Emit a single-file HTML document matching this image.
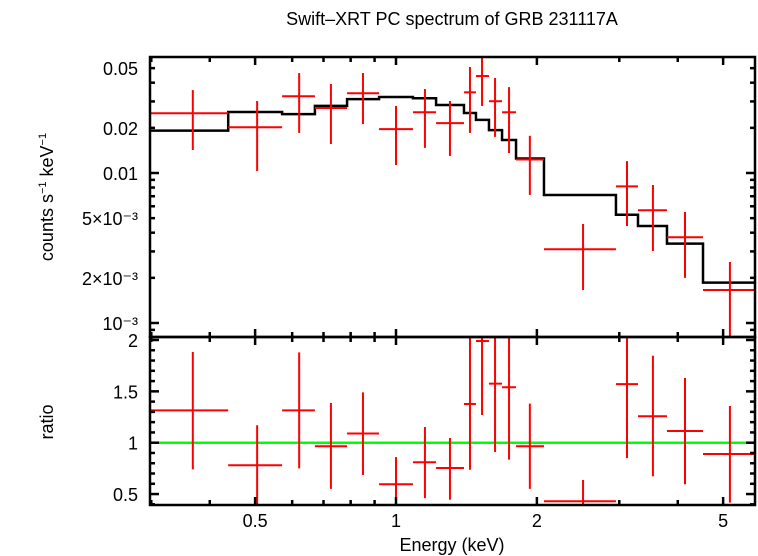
<!DOCTYPE html>
<html><head><meta charset="utf-8"><style>
html,body{margin:0;padding:0;background:#fff;}
svg{display:block;font-family:"Liberation Sans",sans-serif;}
</style></head><body>
<svg id="chart" width="758" height="556" viewBox="0 0 758 556" xmlns="http://www.w3.org/2000/svg">
<text x="452" y="25" font-size="18" text-anchor="middle">Swift–XRT PC spectrum of GRB 231117A</text>
<text transform="translate(53,197) rotate(-90)" font-size="18" text-anchor="middle">counts s<tspan font-size="11" dy="-7">−1</tspan><tspan dy="7"> keV</tspan><tspan font-size="11" dy="-7">−1</tspan></text>
<text transform="translate(53,422) rotate(-90)" font-size="18" text-anchor="middle">ratio</text>
<text x="452" y="551" font-size="18" text-anchor="middle">Energy (keV)</text>
<g id="g"></g>
</svg>
<script>
// ---- data ----
const binEdges = [0.298,0.438,0.571,0.671,0.786,0.920,1.087,1.218,1.397,1.482,1.580,1.685,1.805,2.071,2.951,3.289,3.793,4.529,5.85];
const binCenters = [0.368,0.505,0.621,0.726,0.850,1.0,1.153,1.304,1.439,1.527,1.628,1.744,1.932,2.51,3.116,3.54,4.145,5.17];
const rateValues = [0.0250,0.0202,0.0325,0.0271,0.0340,0.0196,0.0254,0.0215,0.0345,0.0443,0.0301,0.0254,0.0123,0.00310,0.00815,0.00564,0.00373,0.00166];
const rateHigh = [0.0357,0.0302,0.0464,0.0392,0.0464,0.0280,0.0363,0.0302,0.0509,0.0612,0.0430,0.0374,0.0177,0.00457,0.0120,0.00832,0.00550,0.00255];
const rateLow = [0.01424,0.0103,0.0185,0.0156,0.0212,0.0113,0.0147,0.0130,0.0185,0.0280,0.0174,0.0136,0.00714,0.00166,0.00443,0.00302,0.00200,0.0007];
const modelValues = [0.01915,0.0255,0.0247,0.0280,0.0311,0.0321,0.0315,0.0284,0.0251,0.0226,0.0193,0.0166,0.0125,0.00714,0.00527,0.00443,0.00338,0.00186];
const ratioValues = [1.315,0.78,1.315,0.965,1.09,0.595,0.81,0.754,1.377,1.99,1.575,1.54,0.965,0.43,1.57,1.257,1.114,0.89];
const ratioHigh = [1.883,1.17,1.88,1.386,1.49,0.86,1.153,1.046,2.2,2.2,2.2,2.2,1.38,0.637,2.2,1.847,1.63,1.357];
const ratioLow = [0.74,0.38,0.75,0.55,0.685,0.38,0.46,0.445,0.737,1.27,0.91,0.835,0.55,0.38,0.85,0.673,0.595,0.416];
const xTickLabels = ["0.5","1","2","5"];
const xTickValues = [0.5,1,2,5];
const yTopLabels = ["0.05","0.02","0.01","5×10⁻³","2×10⁻³","10⁻³"];
const yTopValues = [0.05,0.02,0.01,0.005,0.002,0.001];
const ratioTickLabels = ["2","1.5","1","0.5"];
const ratioTickValues = [2,1.5,1,0.5];

// ---- axes ----
const L=150,R=755,T=57,M=337,B=505;
const xs = e => 396 + 468*Math.log10(e);
const yTop = v => 173 - 150*Math.log10(v/0.01);
const yBot = r => 442.7 - 102.7*(r-1);
const NS="http://www.w3.org/2000/svg";
const g=document.getElementById('g');
function mk(tag,attrs,parent){const e=document.createElementNS(NS,tag);for(const k in attrs)e.setAttribute(k,attrs[k]);(parent||g).appendChild(e);return e;}
const clipT = mk('clipPath',{id:'ct'}); mk('rect',{x:L,y:T,width:R-L,height:M-T},clipT);
const clipB = mk('clipPath',{id:'cb'}); mk('rect',{x:L,y:M,width:R-L,height:B-M},clipB);
const gt = mk('g',{'clip-path':'url(#ct)'});


const gb = mk('g',{'clip-path':'url(#cb)'});



let d='';
for(let i=0;i<modelValues.length;i++){
  const y=yTop(modelValues[i]);
  d += (i===0?'M':'L')+xs(binEdges[i])+','+y+' L'+xs(binEdges[i+1])+','+y+' ';
}
const model=mk('path',{d:d,fill:'none',stroke:'#000','stroke-width':2.5},gt);



const ref=mk('line',{x1:L,x2:R,y1:yBot(1),y2:yBot(1),stroke:'#00ff00','stroke-width':2.5},gb);



for(let i=0;i<binCenters.length;i++){
  const x=xs(binCenters[i]),x0=xs(binEdges[i]),x1=xs(binEdges[i+1]);
  const p=mk('g',{stroke:'#ff0000','stroke-width':2},gt);
  
  
  mk('line',{x1:x0,x2:x1,y1:yTop(rateValues[i]),y2:yTop(rateValues[i])},p);
  mk('line',{x1:x,x2:x,y1:yTop(rateHigh[i]),y2:yTop(rateLow[i])},p);
  const q=mk('g',{stroke:'#ff0000','stroke-width':2},gb);
  
  
  mk('line',{x1:x0,x2:x1,y1:yBot(ratioValues[i]),y2:yBot(ratioValues[i])},q);
  mk('line',{x1:x,x2:x,y1:yBot(ratioHigh[i]),y2:yBot(ratioLow[i])},q);
}

const ax=mk('g',{stroke:'#000','stroke-width':2.5,fill:'none'});


mk('rect',{x:L,y:T,width:R-L,height:M-T},ax);
mk('rect',{x:L,y:M,width:R-L,height:B-M},ax);

const minorX=[0.3,0.4,0.5,0.6,0.7,0.8,0.9,1,2,3,4,5];
for(const e of minorX){
  const x=xs(e); if(x<L||x>R) continue;
  const big=[0.5,1,2,5].includes(e); const len=big?8:5;
  for(const [y0,dir] of [[T,1],[M,-1],[M,1],[B,-1]])
    mk('line',{x1:x,x2:x,y1:y0,y2:y0+dir*len},ax);
}
xTickValues.forEach((v,i)=>{
  const t=mk('text',{x:xs(v),y:527,'font-size':18,'text-anchor':'middle',stroke:'none',fill:'#000'});
  t.textContent=xTickLabels[i];
  
  
});
const minorY=[0.0009,0.001,0.002,0.003,0.004,0.005,0.006,0.007,0.008,0.009,0.01,0.02,0.03,0.04,0.05];
for(const v of minorY){
  const y=yTop(v); if(y<T||y>M) continue;
  const len=(v===0.001||v===0.01)?9:5;
  mk('line',{x1:L,x2:L+len,y1:y,y2:y},ax);
  mk('line',{x1:R,x2:R-len,y1:y,y2:y},ax);
}
yTopValues.forEach((v,i)=>{
  const t=mk('text',{x:138,y:yTop(v)+7,'font-size':18,'text-anchor':'end',stroke:'none',fill:'#000'});
  t.textContent=yTopLabels[i];
  
  
});
for(let r=0.4;r<=2.01;r+=0.1){
  const y=yBot(r); if(y<M||y>B) continue;
  const major=Math.abs(r*2-Math.round(r*2))<0.01; const len=major?9:5;
  mk('line',{x1:L,x2:L+len,y1:y,y2:y},ax);
  mk('line',{x1:R,x2:R-len,y1:y,y2:y},ax);
}
ratioTickValues.forEach((v,i)=>{
  const t=mk('text',{x:138,y:yBot(v)+7,'font-size':18,'text-anchor':'end',stroke:'none',fill:'#000'});
  t.textContent=ratioTickLabels[i];
  
  
});
</script>
</body></html>
